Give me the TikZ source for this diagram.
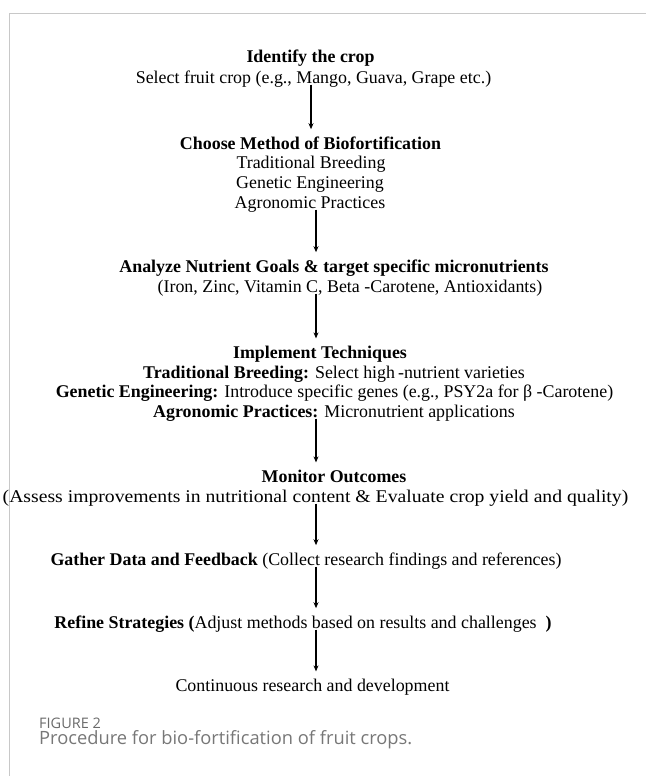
\documentclass[tikz,border=0pt]{standalone}
\usepackage{fontspec}
\usepackage{graphicx}
\setmainfont{Liberation Serif}
\newfontfamily\capfont{Open Sans}
\usetikzlibrary{arrows.meta}
\definecolor{framegray}{HTML}{C8C8C8}
\definecolor{capgray}{HTML}{6A6A6A}
\definecolor{capgrayb}{HTML}{777777}
\begin{document}
\begin{tikzpicture}[x=1pt,y=-1pt,
  txt/.style={anchor=base,inner sep=0pt,font=\fontsize{17.9}{20}\selectfont},
  hd/.style={txt,font=\fontsize{17.9}{20}\selectfont\bfseries},
  captxt/.style={anchor=base west,inner sep=0pt},
  arr/.style={line width=1.3pt,-{Stealth[length=6pt,width=5pt]},shorten <=1.5pt,shorten >=7pt},
  ]
\useasboundingbox (0,0) rectangle (646,776);
\draw[framegray,line width=1pt] (9,776) -- (9,14) -- (646,14);
\coordinate (ax1) at (311,0);
\coordinate (ax) at (316,0);

\node[hd]  (n1)  at (310.5,63)  {Identify the crop};
\node[txt] (n2)  at (313.5,83)  {Select fruit crop (e.g., Mango, Guava, Grape etc.)};
\node[hd]  (n3)  at (310.5,149) {Choose Method of Biofortification};
\node[txt] (n4)  at (311,168)   {Traditional Breeding};
\node[txt] (n5)  at (310,188)   {Genetic Engineering};
\node[txt] (n6)  at (310,208)   {Agronomic Practices};
\node[hd]  (n7)  at (334,272)   {Analyze Nutrient Goals \& target specific micronutrients};
\node[txt] (n8)  at (350,292)   {(Iron, Zinc, Vitamin C, Beta -Carotene, Antioxidants)};
\node[hd]  (n9)  at (320,358)   {Implement Techniques};
\node[txt] (n10) at (334,378)   {\textbf{Traditional Breeding:} Select high\,-nutrient varieties};
\node[txt] (n11) at (334.5,397) {\textbf{Genetic Engineering:} Introduce specific genes (e.g., PSY2a for β\ -Carotene)};
\node[txt] (n12) at (334,417)   {\textbf{Agronomic Practices:} Micronutrient applications};
\node[hd]  (n13) at (334,482)   {Monitor Outcomes};
\node[txt] (n14) at (315.5,502) {\scalebox{1.1}[1]{(Assess improvements in nutritional content \& Evaluate crop yield and quality)}};
\node[txt] (n15) at (306,565)   {\textbf{Gather Data and Feedback} (Collect research findings and references)};
\node[txt] (n16) at (303,628)   {\textbf{Refine Strategies (}Adjust methods based on results and challenges\ \ \textbf{)}};
\node[txt] (n17) at (312.5,691) {Continuous research and development};

\node[captxt,text=capgray,font=\capfont\fontsize{14.5}{16}\selectfont] (c1) at (39,728) {FIGURE 2};
\node[captxt,text=capgrayb,font=\capfont\fontsize{18.3}{20}\selectfont] (c2) at (39,744) {Procedure for bio-fortification of fruit crops.};

\draw[arr] (n2.base -| ax1) -- (n3.north -| ax1);
\draw[arr] (n6.base -| ax) -- (n7.north -| ax);
\draw[arr] (n8.base -| ax) -- (n9.north -| ax);
\draw[arr] (n12.base -| ax) -- (n13.north -| ax);
\draw[arr] (n14.base -| ax) -- (n15.north -| ax);
\draw[arr] (n15.base -| ax) -- (n16.north -| ax);
\draw[arr] (n16.base -| ax) -- (n17.north -| ax);
\end{tikzpicture}
\end{document}
